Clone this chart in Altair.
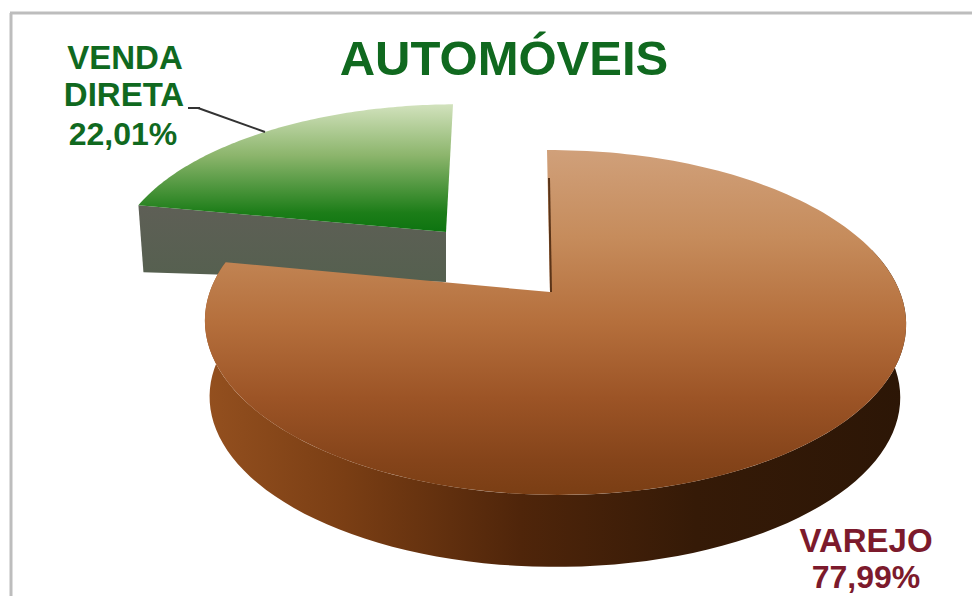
import math
import altair as alt

categories = ["VAREJO", "VENDA DIRETA"]
shares = [77.99, 22.01]
share_labels = ["77,99%", "22,01%"]
title_text = "AUTOMÓVEIS"

W, H = 964, 588
FONT = "Liberation Sans"
K, M, S, R = 0.177, -0.014, 167.0, 345.0


def project(theta, apex, scale=1.0, xscale=1.0, skew=0.0, dx=0.0, dy=0.0):
    X, Y = math.sin(theta), math.cos(theta)
    d = 1 + K * Y + M * X
    return [apex[0] + dx + xscale * scale * R * X / d + skew * Y,
            apex[1] + dy - scale * S * Y / d]


def arc(t0, t1, n=90, **kw):
    apex = kw.pop("apex")
    return [project(t0 + (t1 - t0) * i / n, apex, **kw) for i in range(n + 1)]


def shape(rings, fill):
    ring = rings + [rings[0]]
    feature = {"type": "Feature", "properties": {},
               "geometry": {"type": "Polygon", "coordinates": [ring]}}
    return alt.Chart(alt.Data(values=[feature])).mark_geoshape(
        fill=fill, stroke=None, strokeWidth=0
    ).project(type="identity", reflectY=False, scale=1, translate=[-8, -8])


def grad(stops, horizontal=False):
    return alt.Gradient(
        gradient="linear",
        x1=0, y1=0, x2=1 if horizontal else 0, y2=0 if horizontal else 1,
        stops=[alt.GradientStop(offset=o, color=c) for o, c in stops],
    )


sweep_brown = math.radians(360 * shares[0] / 100)
apex_b = (550, 292)
apex_g = (446, 232)

# green slice (behind)
g_top = arc(sweep_brown, 2 * math.pi, apex=apex_g, scale=0.9, xscale=1.06, skew=7)
g_left = g_top[0]
green_face = shape([list(apex_g)] + g_top, grad([(0, "#d2e2bd"), (0.4, "#8cb56c"), (0.85, "#1c7d18"), (1, "#0d7410")]))
green_wall = shape(
    [g_left, list(apex_g), [apex_g[0], apex_g[1] + 50], [g_left[0] + 5, g_left[1] + 67]],
    grad([(0, "#5e5f56"), (1, "#55604f")]),
)

# brown slice
b_wall_top = arc(math.radians(75), sweep_brown, apex=apex_b, skew=-3)
b_wall_bot = arc(math.radians(75), sweep_brown, apex=apex_b, scale=0.985, dy=75)
brown_wall = shape(
    b_wall_top + b_wall_bot[::-1],
    grad([(0, "#94501f"), (0.2, "#7a3e14"), (0.45, "#4f250a"), (0.7, "#351a07"), (1, "#2c1606")], horizontal=True),
)
b_top = arc(0, sweep_brown, n=180, apex=apex_b, skew=-3)
brown_face = shape(
    [list(apex_b)] + b_top,
    grad([(0, "#d0a07a"), (0.25, "#c68c5c"), (0.5, "#b56f3c"), (0.72, "#9c5426"), (0.9, "#85441a"), (1, "#7a3e14")]),
)


def text(label, px, py, size, color):
    return alt.Chart(alt.Data(values=[{"t": label}])).mark_text(
        font=FONT, fontWeight="bold", fontSize=size, color=color, align="center", baseline="alphabetic"
    ).encode(text="t:N", x=alt.value(px - 8), y=alt.value(py - 8))


def rule(x0, y0, x1, y1, color, width):
    return alt.Chart(alt.Data(values=[{"a": 0}])).mark_rule(color=color, strokeWidth=width).encode(
        x=alt.value(x0 - 8), x2=alt.value(x1 - 8), y=alt.value(y0 - 8), y2=alt.value(y1 - 8)
    )


GREEN = "#10691f"
MAROON = "#7c1a2c"
layers = [
    rule(10, 13, 976, 13, "#bdbdbd", 3),
    rule(11, 13, 11, 596, "#bdbdbd", 3),
    green_wall,
    green_face,
    brown_wall,
    brown_face,
    rule(549, 178, 551, 292, "#5a3418", 2),
    rule(188, 108, 200, 108, "#333333", 2),
    rule(198, 108, 265, 132, "#333333", 2),
    text(title_text, 504, 75, 49, GREEN),
    text("VENDA", 125, 69, 33, GREEN),
    text("DIRETA", 124, 106, 33, GREEN),
    text(share_labels[1], 123, 145, 32, GREEN),
    text(categories[0], 866, 552, 33, MAROON),
    text(share_labels[0], 866, 588, 32, MAROON),
]

chart = alt.layer(*layers).properties(
    width=W, height=H, padding=0, autosize=alt.AutoSizeParams(type="none"), background="white"
).configure_view(stroke=None)

chart.save("out.html", embed_options={"renderer": "svg", "actions": False})
